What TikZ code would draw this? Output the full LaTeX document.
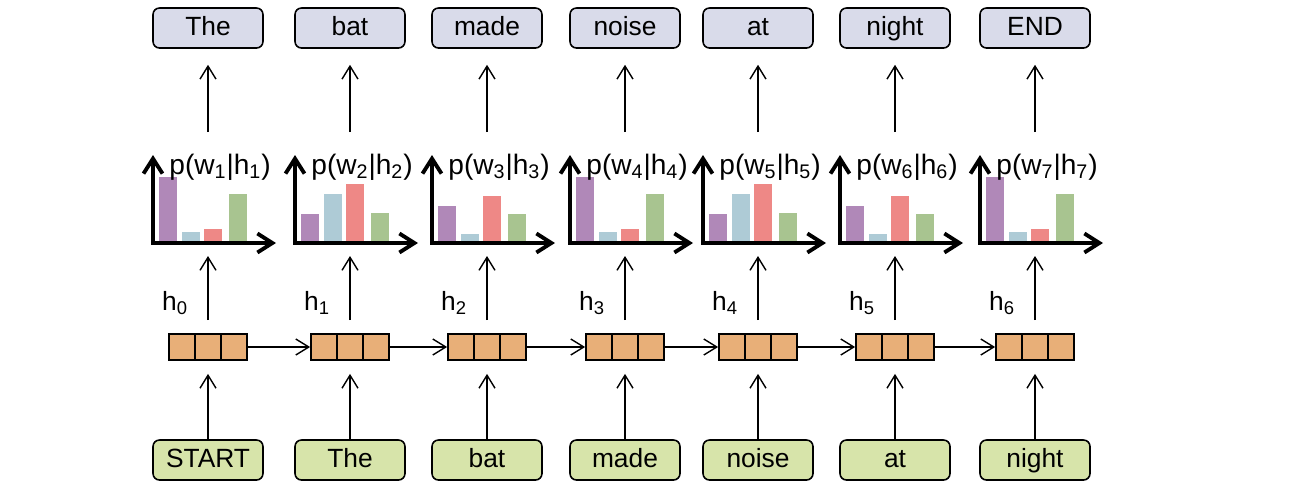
\documentclass[tikz,border=0pt]{standalone}
\usepackage{fontspec}
\setmainfont{Liberation Sans}
\usetikzlibrary{arrows.meta}
\definecolor{outfill}{HTML}{D9DBEA}
\definecolor{infill}{HTML}{D7E4AA}
\definecolor{hidfill}{HTML}{E8AF78}
\definecolor{bpurple}{HTML}{B088B8}
\definecolor{bblue}{HTML}{AECBD6}
\definecolor{bred}{HTML}{EE8886}
\definecolor{bgreen}{HTML}{A8C490}
\tikzset{
	word/.style={draw, line width=0.9pt, rounded corners=0.13cm, minimum width=2.2cm, minimum height=0.8cm, inner sep=0pt, text height=2ex, text depth=0.3ex},
	outword/.style={word, fill=outfill},
	inword/.style={word, fill=infill},
	hid/.style={draw, line width=1pt, fill=hidfill, minimum width=1.56cm, minimum height=0.52cm, inner sep=0pt,
		path picture={\draw[line width=1pt] ([xshift=0.52cm]path picture bounding box.south west) -- ([xshift=0.52cm]path picture bounding box.north west);
			\draw[line width=1pt] ([xshift=-0.52cm]path picture bounding box.south east) -- ([xshift=-0.52cm]path picture bounding box.north east);}},
	axis/.style={{Straight Barb[length=0.3cm,width=0.38cm]}-{Straight Barb[length=0.3cm,width=0.38cm]}, line width=2.2pt},
	link/.style={-{Straight Barb[length=0.26cm,width=0.32cm]}, line width=0.8pt}
}

\begin{document}
\begin{tikzpicture}[x=0.02cm, y=-0.02cm, font=\fontsize{15}{18}\selectfont]
	\useasboundingbox (0,0) rectangle (1302,491);
	%Colonne
	\foreach \i/\x/\outw/\inw/\pa/\pb/\pc/\pd in {1/208/The/START/177/232/229/194, 2/350/bat/The/214/194/184/213, 3/487/made/bat/206/234/196/214, 4/625/noise/made/177/232/229/194, 5/758/at/noise/214/194/184/213, 6/895/night/at/206/234/196/214, 7/1035/END/night/177/232/229/194}{
		\pgfmathtruncatemacro{\j}{\i-1}
		\node [outword] (w\i) at (\x,28) {\outw};
		\node [inword] (in\j) at (\x,460) {\inw};
		\node [hid] (h\j) at (\x,347) {};
		\node (hl\j) at (\x-33,303) {h\textsubscript{\j}};
		%Istogramma
		\fill [bpurple] (\x-49,241) rectangle (\x-31,\pa);
		\fill [bblue] (\x-26,241) rectangle (\x-8,\pb);
		\fill [bred] (\x-4,241) rectangle (\x+14,\pc);
		\fill [bgreen] (\x+21,241) rectangle (\x+39,\pd);
		\draw [axis] (\x-55,155) -- (\x-55,243) -- (\x+68,243);
		\coordinate (pb\i) at (\x,243);
		\coordinate (pt\i) at (\x,155);
		\node [font=\fontsize{16}{19}\selectfont] (p\i) at (\x+12,167) {p(w\textsubscript{\i}|h\textsubscript{\i})};
		%Frecce verticali
		\draw [link, shorten >=0.26cm] (in\j) -- (h\j);
		\draw [link, shorten <=0.26cm, shorten >=0.26cm] (h\j) -- (pb\i);
		\draw [link, shorten <=0.46cm, shorten >=0.32cm] (pt\i) -- (w\i);
	}
	%Catena degli stati
	\foreach \j [remember=\j as \k (initially 0)] in {1,...,6}
		\draw [link] (h\k) -- (h\j);
\end{tikzpicture}
\end{document}
